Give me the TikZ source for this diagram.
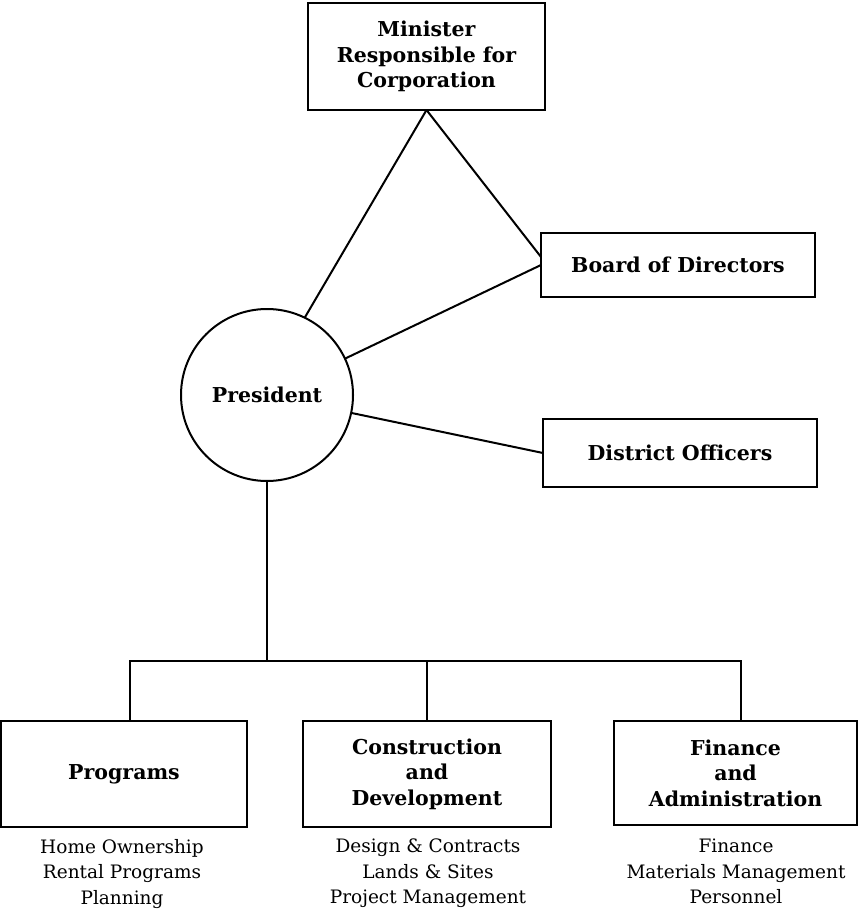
\documentclass[tikz,border=0pt]{standalone}
\usepackage{fontspec}
\setmainfont{DejaVu Serif}
\begin{document}
\begin{tikzpicture}[x=1pt,y=-1pt,
  every node/.style={inner sep=0pt,outer sep=0pt},
  orgbox/.style={draw,line width=2pt,rectangle,align=center,
    font=\fontsize{20.5}{25.5}\selectfont\bfseries},
  orgcircle/.style={draw,line width=2pt,circle,minimum size=172pt,
    font=\fontsize{20.5}{25.5}\selectfont\bfseries},
  subtext/.style={align=center,font=\fontsize{18.5}{25.5}\selectfont},
  link/.style={line width=2pt}]
\useasboundingbox (0,0) rectangle (860,917);
\node[orgbox,minimum width=237pt,minimum height=107pt] (min) at (426.5,56.5)
  {Minister\\Responsible for\\Corporation};
\node[orgbox,minimum width=274pt,minimum height=64pt] (board) at (678,265)
  {Board of Directors};
\node[orgbox,minimum width=274pt,minimum height=68pt] (dist) at (680,453)
  {District Officers};
\node[orgcircle] (pres) at (267,395) {President};
\node[orgbox,minimum width=246pt,minimum height=106pt] (prog) at (124,774)
  {Programs};
\node[orgbox,minimum width=248pt,minimum height=106pt] (cons) at (427,774)
  {Construction\\and\\Development};
\node[orgbox,minimum width=243pt,minimum height=104pt] (fin) at (735.5,773)
  {Finance\\and\\Administration};
\node[subtext,anchor=north] (progsub) at (122,839)
  {Home Ownership\\Rental Programs\\Planning};
\node[subtext,anchor=north] (conssub) at (428,839)
  {Design \& Contracts\\Lands \& Sites\\Project Management};
\node[subtext,anchor=north] (finsub) at (736,839)
  {Finance\\Materials Management\\Personnel};
\coordinate (busL) at (130,661);
\coordinate (busR) at (741,661);
\draw[link] (min.south) -- (pres.64);
\draw[link] (min.south) -- ([yshift=8pt]board.west);
\draw[link] (board.west) -- (pres.25);
\draw[link] (pres.-12) -- (dist.west);
\draw[link] (pres.south) -- (pres.south |- busL);
\draw[link] (busL |- prog.north) -- (busL) -- (busR) -- (busR |- fin.north);
\draw[link] (cons.north) -- (cons.north |- busL);
\end{tikzpicture}
\end{document}
